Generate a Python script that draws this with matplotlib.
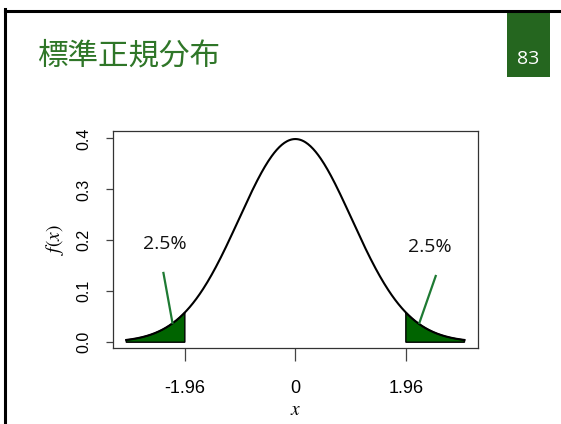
import numpy as np
import matplotlib
matplotlib.use("Agg")
import matplotlib.pyplot as plt
from matplotlib.lines import Line2D
from matplotlib.patches import Rectangle

plt.rcParams["font.family"] = ["Liberation Sans", "DejaVu Sans"]
plt.rcParams["mathtext.fontset"] = "stix"

TITLE = "標準正規分布"
PAGE_NO = "83"

X_RANGE = (-3.0, 3.0)
CRIT = 1.96
X_TICKS = [-1.96, 0, 1.96]
X_TICK_LABELS = ["-1.96", "0", "1.96"]
Y_TICKS = [0.0, 0.1, 0.2, 0.3, 0.4]
Y_TICK_LABELS = ["0.0", "0.1", "0.2", "0.3", "0.4"]

TAIL_LABEL = "2.5%"
# label position and leader line (start, end) for each tail
LABEL_POS = [(-2.31, 0.193), (2.38, 0.186)]
LEADER = [((-2.34, 0.136), (-2.18, 0.038)),
          ((2.49, 0.130), (2.20, 0.038))]

GREEN_DARK = "#25661f"
GREEN_TITLE = "#2f7628"
FILL = "#006400"
LEADER_C = "#1e7a33"


def dnorm(x):
    return np.exp(-0.5 * x ** 2) / np.sqrt(2 * np.pi)


fig = plt.figure(figsize=(5.61, 4.24), dpi=100)

# page number tab, then slide frame (top and left edges) over it
fig.add_artist(Rectangle((507 / 561, 1 - 77 / 424), 43 / 561, 66 / 424,
                         transform=fig.transFigure, color=GREEN_DARK, lw=0))
fig.add_artist(Line2D([5 / 561, 5 / 561], [0, 1 - 9 / 424], color="black", lw=2.2,
                      transform=fig.transFigure))
fig.add_artist(Line2D([5 / 561, 1], [1 - 10.5 / 424, 1 - 10.5 / 424], color="black",
                      lw=2.2, transform=fig.transFigure))
fig.text(528 / 561, 1 - 59 / 424, PAGE_NO, color="white", fontsize=14,
         family=["Open Sans", "DejaVu Sans"], ha="center", va="center")
fig.text(37 / 561, 1 - 56 / 424, TITLE, color=GREEN_TITLE, fontsize=22,
         family=["Noto Sans CJK JP", "DejaVu Sans"], ha="left", va="center")

ax = fig.add_axes([112.7 / 561, 1 - 348 / 424, 365.3 / 561, 217 / 424])

xs = np.linspace(X_RANGE[0], X_RANGE[1], 401)
ys = dnorm(xs)

# R-style 4% padding
xr = X_RANGE[1] - X_RANGE[0]
ax.set_xlim(X_RANGE[0] - 0.04 * xr, X_RANGE[1] + 0.04 * xr)
yr = ys.max() - ys.min()
ax.set_ylim(ys.min() - 0.04 * yr, ys.max() + 0.04 * yr)

for lo, hi in [(X_RANGE[0], -CRIT), (CRIT, X_RANGE[1])]:
    xt = np.linspace(lo, hi, 100)
    px = np.concatenate([[lo], xt, [hi]])
    py = np.concatenate([[0], dnorm(xt), [0]])
    ax.fill(px, py, facecolor=FILL, edgecolor="black", lw=1.0, zorder=2)

ax.plot(xs, ys, color="black", lw=1.5, zorder=3)

for (lx, ly), ((x0, y0), (x1, y1)) in zip(LABEL_POS, LEADER):
    ax.text(lx, ly, TAIL_LABEL, fontsize=14, family=["Open Sans", "DejaVu Sans"],
            ha="center", va="center", color="#111111")
    ax.plot([x0, x1], [y0, y1], color=LEADER_C, lw=1.6, zorder=4)

ax.set_xticks(X_TICKS)
ax.set_xticklabels(X_TICK_LABELS, fontsize=13)
ax.set_yticks(Y_TICKS)
ax.set_yticklabels(Y_TICK_LABELS, fontsize=11.5, rotation=90, va="center")
ax.tick_params(axis="x", length=9.4, width=0.9, color="#444444", pad=13.5)
ax.tick_params(axis="y", length=5, width=0.9, color="#444444", pad=10.5)
for s in ax.spines.values():
    s.set_color("#333333")
    s.set_linewidth(0.9)

ax.set_xlabel("$x$", fontsize=14, labelpad=4)
ax.set_ylabel("$f(x)$", fontsize=14, labelpad=7)

fig.savefig("out.png", dpi=100)
